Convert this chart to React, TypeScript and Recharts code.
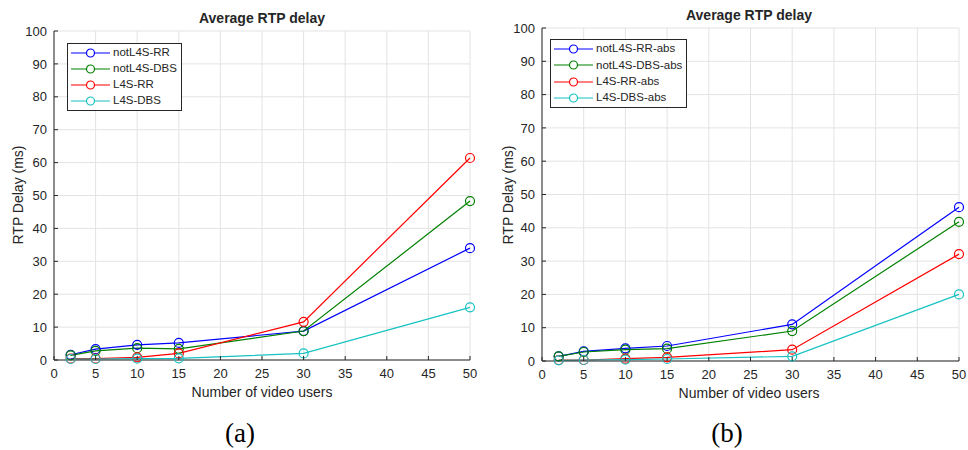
import React from 'react';
import { LineChart, Line, XAxis, YAxis, CartesianGrid, Legend } from 'recharts';

// x positions (number of video users) shared by both panels
const users = [2, 5, 10, 15, 30, 50];

// panel (a)
const notL4sRR = [1.6, 3.3, 4.6, 5.2, 8.8, 34.0];
const notL4sDBS = [1.4, 2.8, 3.6, 3.4, 8.8, 48.3];
const l4sRR = [0.4, 0.4, 0.8, 2.0, 11.6, 61.4];
const l4sDBS = [0.3, 0.3, 0.4, 0.5, 2.0, 16.0];

// panel (b)
const notL4sRRAbs = [1.4, 2.9, 3.8, 4.5, 11.0, 46.2];
const notL4sDBSAbs = [1.4, 2.7, 3.4, 3.7, 9.0, 41.8];
const l4sRRAbs = [0.3, 0.3, 0.7, 1.1, 3.4, 32.1];
const l4sDBSAbs = [0.2, 0.3, 0.4, 0.6, 1.4, 20.0];

const xTicks = [0, 5, 10, 15, 20, 25, 30, 35, 40, 45, 50];
const yTicks = [0, 10, 20, 30, 40, 50, 60, 70, 80, 90, 100];

const BLUE = '#0000ff';
const GREEN = '#008000';
const RED = '#ff0000';
const CYAN = '#17c2c2';
const AXIS = '#262626';
const GRID = '#e3e3e3';
const FONT = '"Liberation Sans", Arial, Helvetica, sans-serif';

type Series = { key: string; name: string; color: string; values: number[] };

const buildRows = (series: Series[]) =>
  users.map((u, i) => {
    const row: Record<string, number> = { users: u };
    series.forEach((s) => (row[s.key] = s.values[i]));
    return row;
  });

const seriesA: Series[] = [
  { key: 'a1', name: 'notL4S-RR', color: BLUE, values: notL4sRR },
  { key: 'a2', name: 'notL4S-DBS', color: GREEN, values: notL4sDBS },
  { key: 'a3', name: 'L4S-RR', color: RED, values: l4sRR },
  { key: 'a4', name: 'L4S-DBS', color: CYAN, values: l4sDBS },
];

const seriesB: Series[] = [
  { key: 'b1', name: 'notL4S-RR-abs', color: BLUE, values: notL4sRRAbs },
  { key: 'b2', name: 'notL4S-DBS-abs', color: GREEN, values: notL4sDBSAbs },
  { key: 'b3', name: 'L4S-RR-abs', color: RED, values: l4sRRAbs },
  { key: 'b4', name: 'L4S-DBS-abs', color: CYAN, values: l4sDBSAbs },
];

const X_GAP = 9;
const Y_GAP = 7;

// tick labels with short inward tick marks
const XTick = (props: any) => {
  const { x, y, payload } = props;
  const axisY = y - X_GAP;
  return (
    <g>
      <line x1={x} x2={x} y1={axisY} y2={axisY - 4} stroke={AXIS} strokeWidth={1} />
      <text x={x} y={y} dy="0.71em" textAnchor="middle" fill={AXIS} fontSize={13} fontFamily={FONT}>
        {payload.value}
      </text>
    </g>
  );
};

const YTick = (props: any) => {
  const { x, y, payload } = props;
  const axisX = x + Y_GAP;
  return (
    <g>
      <line x1={axisX} x2={axisX + 4} y1={y} y2={y} stroke={AXIS} strokeWidth={1} />
      <text x={x} y={y} dy="0.355em" textAnchor="end" fill={AXIS} fontSize={13} fontFamily={FONT}>
        {payload.value}
      </text>
    </g>
  );
};

// legend keeps the plotting order of the series
const makeLegend = (series: Series[], rowHeight: number) => (props: any) => {
  const payload = [...(props.payload || [])].sort(
    (p: any, q: any) => series.findIndex((s) => s.key === p.dataKey) - series.findIndex((s) => s.key === q.dataKey)
  );
  return (
    <div
      style={{
        border: `1px solid ${AXIS}`,
        background: '#fff',
        padding: '1px 4px 1px 3px',
        fontFamily: FONT,
        fontSize: 11.5,
        color: AXIS,
        lineHeight: 1,
      }}
    >
      {payload.map((entry: any) => (
        <div key={entry.value} style={{ display: 'flex', alignItems: 'center', height: rowHeight }}>
          <svg width={39} height={10} style={{ display: 'block' }}>
            <line x1={0} x2={39} y1={5} y2={5} stroke={entry.color} strokeWidth={1.2} />
            <circle cx={19.5} cy={5} r={4} fill="#fff" stroke={entry.color} strokeWidth={1.2} />
          </svg>
          <span style={{ marginLeft: 3, whiteSpace: 'nowrap' }}>{entry.value}</span>
        </div>
      ))}
    </div>
  );
};

type PanelProps = {
  series: Series[];
  left: number;
  top: number;
  right: number;
  bottom: number;
  legendPos: { left: number; top: number };
  legendRow: number;
};

const Panel: React.FC<PanelProps> = ({ series, left, top, right, bottom, legendPos, legendRow }) => (
  <LineChart
    width={484}
    height={450}
    data={buildRows(series)}
    margin={{ top, right, bottom: bottom - 30, left: 0 }}
  >
    <CartesianGrid stroke={GRID} strokeWidth={1} />
    <XAxis
      dataKey="users"
      type="number"
      domain={[0, 50]}
      ticks={xTicks}
      interval={0}
      height={30}
      tickSize={0}
      tickMargin={X_GAP}
      tickLine={false}
      stroke={AXIS}
      tick={<XTick />}
    />
    <YAxis
      type="number"
      domain={[0, 100]}
      ticks={yTicks}
      interval={0}
      width={left}
      tickSize={0}
      tickMargin={Y_GAP}
      tickLine={false}
      stroke={AXIS}
      tick={<YTick />}
    />
    <Legend
      layout="vertical"
      align="center"
      verticalAlign="middle"
      wrapperStyle={{ left: legendPos.left, top: legendPos.top, width: 'auto' }}
      content={makeLegend(series, legendRow)}
    />
    {series.map((s) => (
      <Line
        key={s.key}
        type="linear"
        dataKey={s.key}
        name={s.name}
        stroke={s.color}
        strokeWidth={1.2}
        dot={{ r: 4.5, fill: 'none', stroke: s.color, strokeWidth: 1.2 }}
        isAnimationActive={false}
      />
    ))}
  </LineChart>
);

const Caption: React.FC<{ x: number; y: number; bold?: boolean; size?: number; rotate?: boolean; serif?: boolean; children: React.ReactNode }> = ({
  x,
  y,
  bold,
  size = 14,
  rotate,
  serif,
  children,
}) => (
  <div
    style={{
      position: 'absolute',
      left: x,
      top: y,
      whiteSpace: 'nowrap',
      fontSize: size,
      fontWeight: bold ? 'bold' : 'normal',
      fontFamily: serif ? '"Liberation Serif", "Times New Roman", serif' : FONT,
      color: serif ? '#000' : AXIS,
      transform: rotate ? 'translate(-50%, -50%) rotate(-90deg)' : 'translate(-50%, -50%)',
    }}
  >
    {children}
  </div>
);

export default function App() {
  return (
    <div style={{ position: 'absolute', left: 0, top: 0, width: 968, height: 450, background: '#fff', overflow: 'hidden' }}>
      <div style={{ position: 'absolute', left: 0, top: 0 }}>
        <Panel series={seriesA} left={54} top={31} right={14} bottom={90} legendPos={{ left: 67, top: 43 }} legendRow={16} />
      </div>
      <div style={{ position: 'absolute', left: 484, top: 0 }}>
        <Panel series={seriesB} left={58} top={28} right={9} bottom={89} legendPos={{ left: 66, top: 39 }} legendRow={16.3} />
      </div>

      <Caption x={262} y={18} bold>Average RTP delay</Caption>
      <Caption x={749} y={15} bold>Average RTP delay</Caption>

      <Caption x={18} y={195} rotate>RTP Delay (ms)</Caption>
      <Caption x={508} y={195} rotate>RTP Delay (ms)</Caption>

      <Caption x={262} y={392}>Number of video users</Caption>
      <Caption x={749} y={393}>Number of video users</Caption>

      <Caption x={240} y={433} size={27} serif>(a)</Caption>
      <Caption x={727} y={433} size={27} serif>(b)</Caption>
    </div>
  );
}
